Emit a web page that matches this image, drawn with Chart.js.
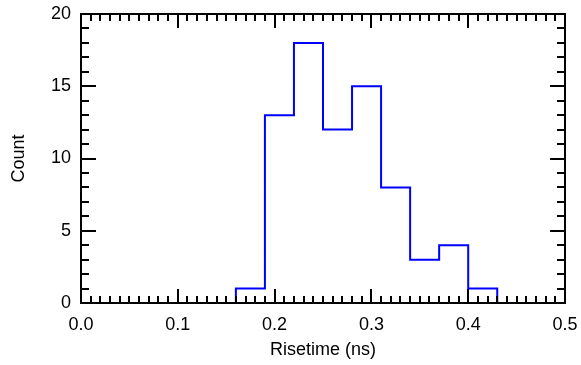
<!DOCTYPE html>
<html>
<head>
<meta charset="utf-8">
<script src="https://cdn.jsdelivr.net/npm/chart.js@4"></script>
<style>
html,body{margin:0;padding:0;background:#fff;}
#wrap{width:581px;height:365px;}
</style>
</head>
<body>
<div id="wrap"><canvas id="c" width="581" height="365"></canvas></div>
<script>
// Histogram bin edges (ns) and counts
const binEdges = [0.16, 0.19, 0.22, 0.25, 0.28, 0.31, 0.34, 0.37, 0.40, 0.43];
const counts = [1, 13, 18, 12, 15, 8, 3, 4, 1];
const xTickLabels = ['0.0', '0.1', '0.2', '0.3', '0.4', '0.5'];
const yTickLabels = ['0', '5', '10', '15', '20'];

const points = [{x: binEdges[0], y: 0}];
counts.forEach((c, i) => points.push({x: binEdges[i + 1], y: c}));
points.push({x: binEdges[binEdges.length - 1], y: 0});

const FAMILY = '"Liberation Sans", Arial, sans-serif';
const FONT = {family: FAMILY, size: 18};

const frameTicks = {
  id: 'frameTicks',
  afterDraw(chart) {
    const ctx = chart.ctx;
    const a = chart.chartArea;
    const xs = chart.scales.x, ys = chart.scales.y;
    ctx.save();
    ctx.strokeStyle = '#000';
    ctx.lineWidth = 2;
    ctx.beginPath();
    for (let i = 0; i <= 50; i++) {
      const v = i / 100;
      const px = Math.round(xs.getPixelForValue(v));
      const len = (i % 10 === 0) ? 14 : 7;
      ctx.moveTo(px, a.bottom); ctx.lineTo(px, a.bottom - len);
      ctx.moveTo(px, a.top); ctx.lineTo(px, a.top + len);
    }
    for (let j = 0; j <= 20; j++) {
      const py = Math.round(ys.getPixelForValue(j));
      const len = (j % 5 === 0) ? 15 : 8;
      ctx.moveTo(a.left, py); ctx.lineTo(a.left + len, py);
      ctx.moveTo(a.right, py); ctx.lineTo(a.right - len, py);
    }
    ctx.stroke();
    ctx.strokeRect(a.left, a.top, a.right - a.left, a.bottom - a.top);
    ctx.restore();
  }
};

new Chart(document.getElementById('c'), {
  type: 'line',
  data: {
    datasets: [{
      data: points,
      stepped: 'after',
      borderColor: '#0000ff',
      borderWidth: 2,
      pointRadius: 0,
      fill: false
    }]
  },
  options: {
    responsive: false,
    animation: false,
    devicePixelRatio: 1,
    layout: {padding: {left: 0, right: 16, top: 14, bottom: 0}},
    plugins: {legend: {display: false}, tooltip: {enabled: false}},
    scales: {
      x: {
        type: 'linear', min: 0, max: 0.5,
        grid: {display: false, drawTicks: false},
        border: {display: false},
        ticks: {
          stepSize: 0.1, color: '#000', font: {family: FAMILY, size: 18, lineHeight: 2.44},
          padding: 0, maxRotation: 0,
          callback: (v) => xTickLabels[Math.round(v * 10)]
        },
        title: {display: true, text: 'Risetime (ns)', color: '#000', font: FONT, padding: {top: 0, bottom: 4}},
        afterFit: (s) => { s.height = 62; }
      },
      y: {
        type: 'linear', min: 0, max: 20,
        grid: {display: false, drawTicks: false},
        border: {display: false},
        ticks: {
          stepSize: 5, color: '#000', font: {family: FAMILY, size: 18, lineHeight: 0.44},
          padding: 10,
          callback: (v) => yTickLabels[Math.round(v / 5)]
        },
        title: {display: true, text: 'Count', color: '#000', font: FONT, padding: {top: 8, bottom: 0}},
        afterFit: (s) => { s.width = 81; }
      }
    }
  },
  plugins: [frameTicks]
});
</script>
</body>
</html>
